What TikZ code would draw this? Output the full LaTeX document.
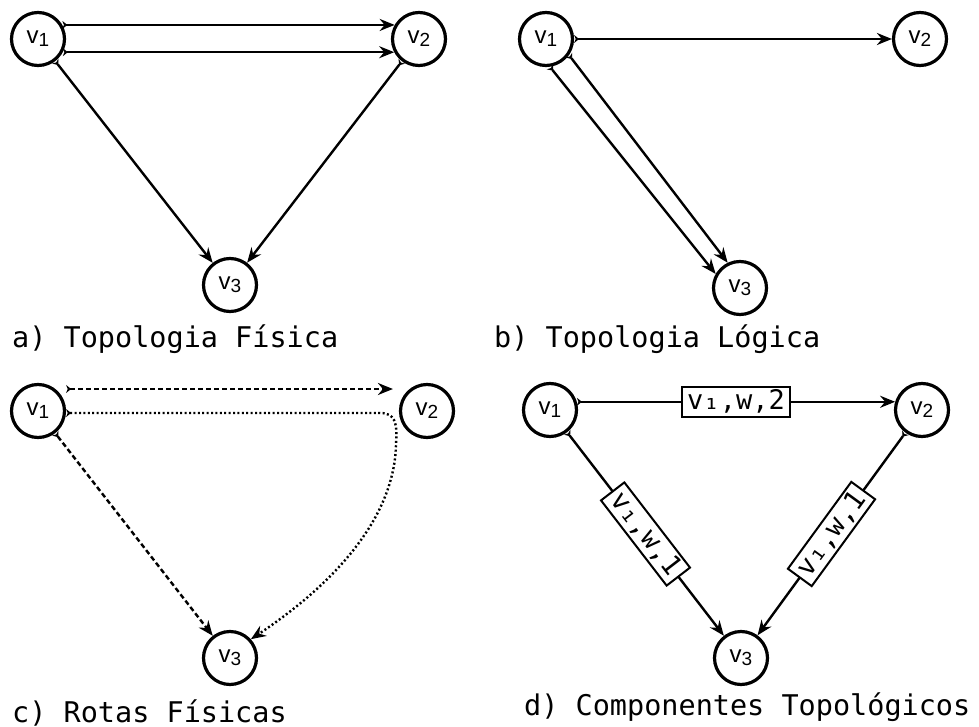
\documentclass[tikz,border=0pt]{standalone}
\usepackage{fontspec}
\usepackage{tikz}
\usetikzlibrary{arrows.meta}
\newfontfamily\vfont{Liberation Sans}
\newfontfamily\monofont{DejaVu Sans Mono}
\definecolor{traco}{HTML}{000000}
\tikzstyle{vertice} = [
    circle,
    draw=traco,
    line width=3.2pt,
    minimum size=53pt,
    inner sep=0pt,
    font=\vfont\fontsize{24}{24}\selectfont
    ]
\tikzstyle{aresta} = [
    draw=traco,
    line width=2.4pt,
    arrows={Stealth[reversed,length=5pt,width=8pt]-Stealth[length=15pt,width=12pt,inset=5pt]}
    ]
\tikzstyle{rotulo} = [
    draw=traco,
    fill=white,
    line width=2pt,
    inner xsep=5pt,
    inner ysep=3pt,
    font=\monofont\fontsize{27}{27}\selectfont
    ]
\tikzstyle{titulo} = [
    anchor=base west,
    inner sep=0pt,
    font=\monofont\fontsize{28.5}{28.5}\selectfont
    ]
\tikzstyle{tracejado} = [dash pattern=on 5pt off 3pt]
\tikzstyle{pontilhado} = [dash pattern=on 2pt off 2.4pt]
\newcommand{\vtx}[1]{v\raisebox{-3pt}{\fontsize{19}{19}\selectfont #1}}

\begin{document}
\begin{tikzpicture}[x=1pt,y=-1pt]
\useasboundingbox (0,0) rectangle (979,727);

% a) topologia fisica
\node[vertice] (v1a) at (38,39) {\vtx{1}};
\node[vertice] (v2a) at (419,39) {\vtx{2}};
\node[vertice] (v3a) at (230,285) {\vtx{3}};
\draw[aresta] (v1a.30) -- (v2a.150);
\draw[aresta] (v1a.-28) -- (v2a.-152);
\draw[aresta] (v1a) -- (v3a);
\draw[aresta] (v2a) -- (v3a);
\node[titulo] (ta) at (12,347) {a) Topologia Física};

% b) topologia logica
\node[vertice] (v1b) at (546,39) {\vtx{1}};
\node[vertice] (v2b) at (920,39) {\vtx{2}};
\node[vertice] (v3b) at (740,288) {\vtx{3}};
\draw[aresta] (v1b) -- (v2b);
\draw[aresta] (v1b.-82) -- (v3b.150);
\draw[aresta] (v1b.-35) -- (v3b.116);
\node[titulo] (tb) at (494,347) {b) Topologia Lógica};

% c) rotas fisicas
\node[vertice] (v1c) at (38,411) {\vtx{1}};
\node[vertice] (v2c) at (427,411) {\vtx{2}};
\node[vertice] (v3c) at (230,658) {\vtx{3}};
\draw[aresta, tracejado, shorten >=6pt] ([yshift=22pt]v1c.east) -- ([yshift=22pt]v2c.west);
\draw[aresta, pontilhado] ([yshift=-2pt]v1c.east) -- (380,413)
    .. controls (397,413) and (397,425) .. (396,445)
    .. controls (394,522) and (328,588) .. (v3c.42);
\draw[aresta, tracejado] (v1c) -- (v3c);
\node[titulo] (tc) at (12,722) {c) Rotas Físicas};

% d) componentes topologicos
\node[vertice] (v1d) at (550,410) {\vtx{1}};
\node[vertice] (v2d) at (922,410) {\vtx{2}};
\node[vertice] (v3d) at (741,658) {\vtx{3}};
\draw[aresta] (v1d.17) -- node[rotulo] (r12) {v₁,w,2} (v2d.163);
\draw[aresta] (v1d) -- node[rotulo, sloped] (r13) {v₁,w,1} (v3d);
\draw[aresta] (v2d) -- node[rotulo, sloped] (r23) {v₁,w,1} (v3d);
\node[titulo] (td) at (524,715) {d) Componentes Topológicos};
\end{tikzpicture}
\end{document}
